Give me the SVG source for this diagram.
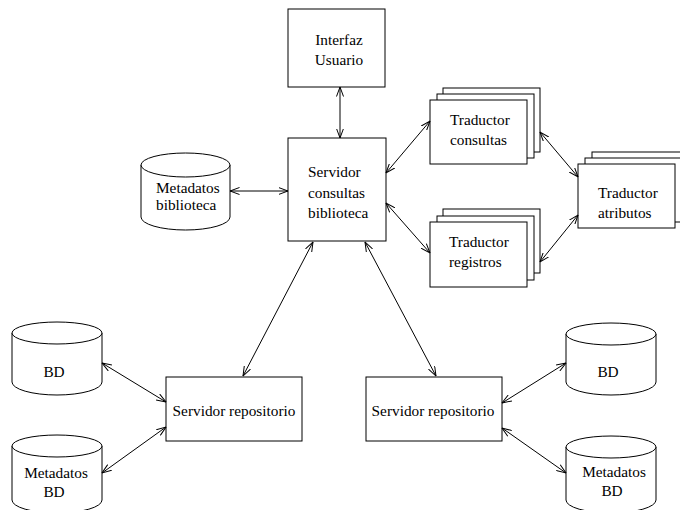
<svg xmlns="http://www.w3.org/2000/svg" width="680" height="510" viewBox="0 0 680 510">
<style>
.box{fill:#fff;stroke:#000;stroke-width:1}
.cyl{fill:#fff;stroke:#000;stroke-width:1}
text{font-family:'Liberation Serif','Times New Roman',Times,serif;font-size:15.3px;fill:#000}
.c{text-anchor:middle}
.con line{stroke:#000;stroke-width:1;marker-start:url(#ah);marker-end:url(#ah)}
</style>
<defs>
<marker id="ah" viewBox="0 0 10 8" refX="9.5" refY="4" markerWidth="10" markerHeight="8" markerUnits="userSpaceOnUse" orient="auto-start-reverse">
<path d="M0,0.5 L9.5,4 L0,7.5" fill="none" stroke="#000" stroke-width="1"/>
</marker>
</defs>
<rect width="680" height="510" fill="#fff"/>

<g id="interfaz">
<rect class="box" x="288" y="9" width="97" height="78"/>
<text class="c" x="339" y="45">Interfaz</text>
<text class="c" x="339" y="65">Usuario</text>
</g>

<g id="servidor-consultas">
<rect class="box" x="288" y="138" width="98" height="103"/>
<text x="308" y="177">Servidor</text>
<text x="308" y="198">consultas</text>
<text x="308" y="218">biblioteca</text>
</g>

<g id="metadatos-biblioteca">
<path class="cyl" d="M141,165 A44.5,12 0 0 1 230,165 L230,217 A44.5,13 0 0 1 141,217 Z"/>
<path class="cyl" fill="none" d="M141,165 A44.5,12 0 0 0 230,165"/>
<text x="156" y="193">Metadatos</text>
<text x="156" y="210">biblioteca</text>
</g>

<g id="traductor-consultas">
<rect class="box" x="443" y="88" width="97" height="64"/>
<rect class="box" x="437" y="94" width="97" height="64"/>
<rect class="box" x="430" y="100" width="97" height="64"/>
<text x="450" y="125">Traductor</text>
<text x="450" y="145">consultas</text>
</g>

<g id="traductor-registros">
<rect class="box" x="443" y="209" width="97" height="64"/>
<rect class="box" x="437" y="216" width="97" height="64"/>
<rect class="box" x="430" y="222" width="97" height="65"/>
<text x="449" y="247">Traductor</text>
<text x="449" y="267">registros</text>
</g>

<g id="traductor-atributos">
<rect class="box" x="592" y="152" width="97" height="64"/>
<rect class="box" x="585" y="158" width="97" height="64"/>
<rect class="box" x="578" y="164" width="97" height="64"/>
<text x="598" y="198">Traductor</text>
<text x="598" y="218">atributos</text>
</g>

<g id="servidor-repositorio-izq">
<rect class="box" x="166" y="377" width="136" height="64"/>
<text class="c" x="234" y="416">Servidor repositorio</text>
</g>

<g id="servidor-repositorio-der">
<rect class="box" x="366" y="377" width="136" height="64"/>
<text class="c" x="433" y="416">Servidor repositorio</text>
</g>

<g id="bd-izq">
<path class="cyl" d="M12,333 A45,11 0 0 1 102,333 L102,382 A45,13 0 0 1 12,382 Z"/>
<path class="cyl" fill="none" d="M12,333 A45,11 0 0 0 102,333"/>
<text class="c" x="54" y="377">BD</text>
</g>

<g id="metadatos-bd-izq">
<path class="cyl" d="M12,446 A45,11 0 0 1 102,446 L102,500 A45,13 0 0 1 12,500 Z"/>
<path class="cyl" fill="none" d="M12,446 A45,11 0 0 0 102,446"/>
<text class="c" x="56" y="478">Metadatos</text>
<text class="c" x="54" y="497">BD</text>
</g>

<g id="bd-der">
<path class="cyl" d="M566,334 A45,11 0 0 1 656,334 L656,382 A45,13 0 0 1 566,382 Z"/>
<path class="cyl" fill="none" d="M566,334 A45,11 0 0 0 656,334"/>
<text class="c" x="608" y="377">BD</text>
</g>

<g id="metadatos-bd-der">
<path class="cyl" d="M566,447 A45,11 0 0 1 656,447 L656,500 A45,13 0 0 1 566,500 Z"/>
<path class="cyl" fill="none" d="M566,447 A45,11 0 0 0 656,447"/>
<text class="c" x="614" y="477">Metadatos</text>
<text class="c" x="612" y="496">BD</text>
</g>

<g id="connectors" class="con">
<line x1="340" y1="87" x2="340" y2="138"/>
<line x1="230" y1="191" x2="288" y2="191"/>
<line x1="386" y1="173" x2="430" y2="121"/>
<line x1="386" y1="203" x2="430" y2="253"/>
<line x1="540" y1="132" x2="578" y2="177"/>
<line x1="578" y1="215" x2="540" y2="262"/>
<line x1="313" y1="242" x2="243" y2="376"/>
<line x1="365" y1="242" x2="436" y2="376"/>
<line x1="102" y1="363" x2="166" y2="402"/>
<line x1="102" y1="473" x2="166" y2="427"/>
<line x1="566" y1="363" x2="502" y2="403"/>
<line x1="502" y1="428" x2="566" y2="473"/>
</g>
</svg>
